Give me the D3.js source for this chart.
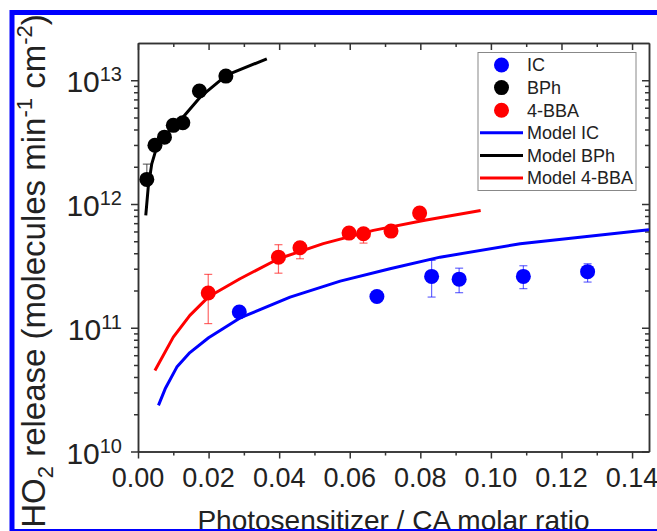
<!DOCTYPE html>
<html>
<head>
<meta charset="utf-8">
<script src="https://cdn.jsdelivr.net/npm/d3@7"></script>
<style>
    body { margin: 0; background: #fff; }
    svg { display: block; font-family: "Liberation Sans", Arial, sans-serif; }
</style>
</head>
<body>
<div id="chart"></div>
<script>
// measured points (x = photosensitizer / CA molar ratio, y = HO2 release)
var icX = [0.0287, 0.0677, 0.0832, 0.0910, 0.1092, 0.1274];
var icY = [1.34e11, 1.79e11, 2.60e11, 2.47e11, 2.60e11, 2.84e11];
var icLo = [null, null, 1.77e11, 1.92e11, 2.07e11, 2.34e11];
var icHi = [null, null, 3.50e11, 3.03e11, 3.17e11, 3.29e11];

var bphX = [0.0025, 0.0048, 0.0075, 0.0100, 0.0127, 0.0174, 0.0249];
var bphY = [1.58e12, 2.98e12, 3.47e12, 4.32e12, 4.54e12, 8.18e12, 1.08e13];
var bphLo = [null, null, null, null, null, null, null];
var bphHi = [2.1e12, null, null, null, null, null, null];

var bbaX = [0.0199, 0.0398, 0.0459, 0.0598, 0.0639, 0.0717, 0.0798];
var bbaY = [1.91e11, 3.72e11, 4.43e11, 5.82e11, 5.75e11, 6.04e11, 8.44e11];
var bbaLo = [1.08e11, 2.76e11, 3.61e11, null, 4.83e11, null, null];
var bbaHi = [2.70e11, 4.69e11, 4.92e11, null, 6.3e11, null, null];

// model curves
var modelIcX = [0.0058, 0.0077, 0.0110, 0.0147, 0.0200, 0.0289, 0.0431, 0.0573, 0.0714, 0.0856, 0.1083, 0.1448];
var modelIcY = [2.36e10, 3.21e10, 4.81e10, 6.3e10, 8.3e10, 1.2e11, 1.77e11, 2.38e11, 3.0e11, 3.72e11, 4.77e11, 6.19e11];

var modelBphX = [0.0022, 0.0029, 0.0039, 0.0053, 0.0081, 0.0128, 0.0176, 0.0251, 0.0365];
var modelBphY = [8.1e11, 1.37e12, 2.11e12, 2.88e12, 3.7e12, 5.05e12, 7.3e12, 1.1e13, 1.49e13];

var modelBbaX = [0.0048, 0.0100, 0.0147, 0.0199, 0.0289, 0.0398, 0.0525, 0.0667, 0.0809, 0.0971];
var modelBbaY = [4.52e10, 8.4e10, 1.26e11, 1.77e11, 2.49e11, 3.61e11, 4.78e11, 6.12e11, 7.36e11, 8.87e11];

// ticks
var xMajor = [0, 0.02, 0.04, 0.06, 0.08, 0.10, 0.12, 0.14];
var xMinor = [0.01, 0.03, 0.05, 0.07, 0.09, 0.11, 0.13];
var yMajor = [1e10, 1e11, 1e12, 1e13];
var yExp = ["10", "11", "12", "13"];

var legendNames = ["IC", "BPh", "4-BBA", "Model IC", "Model BPh", "Model 4-BBA"];

var width = 657,
    height = 531,
    plotLeft = 138,
    plotRight = 649,
    plotTop = 43,
    plotBottom = 451.5,
    blue = "#0000ff",
    red = "#ff0000",
    black = "#000000",
    axisColor = "#333";

var svg = d3.select("#chart")
    .append("svg")
    .attr("width", width)
    .attr("height", height);

svg.append("rect")
    .attr("width", width)
    .attr("height", height)
    .style("fill", "#fff");

var x = d3.scaleLinear()
    .domain([0, 0.1448])
    .range([plotLeft, plotRight]);

var y = d3.scaleLog()
    .domain([1e10, 2e13])
    .range([plotBottom, plotTop]);

// y minor ticks 2..9 per decade
var yMinor = [];
for (var e = 10; e <= 13; e++) {
    for (var m = 2; m <= 9; m++) {
        var v = m * Math.pow(10, e);
        if (v < 2e13) yMinor.push(v);
    }
}

svg.append("clipPath")
    .attr("id", "plotClip")
    .append("rect")
    .attr("x", plotLeft)
    .attr("y", plotTop)
    .attr("width", plotRight - plotLeft)
    .attr("height", plotBottom - plotTop);

// axes
function styleAxis(g) {
    g.select(".domain").style("stroke", axisColor).style("stroke-width", "1.5px");
    g.selectAll(".tick line").style("stroke", axisColor).style("stroke-width", "1.5px");
    g.selectAll(".tick text").remove();
}

svg.append("g")
    .attr("transform", "translate(0," + plotBottom + ")")
    .call(d3.axisBottom(x).tickValues(xMajor).tickSize(7).tickSizeOuter(0))
    .call(styleAxis);
svg.append("g")
    .attr("transform", "translate(0," + plotBottom + ")")
    .call(d3.axisBottom(x).tickValues(xMinor).tickSize(4).tickSizeOuter(0))
    .call(styleAxis);
svg.append("g")
    .attr("transform", "translate(0," + plotTop + ")")
    .call(d3.axisTop(x).tickValues(xMajor).tickSize(-7).tickSizeOuter(0))
    .call(styleAxis);
svg.append("g")
    .attr("transform", "translate(0," + plotTop + ")")
    .call(d3.axisTop(x).tickValues(xMinor).tickSize(-4).tickSizeOuter(0))
    .call(styleAxis);

svg.append("g")
    .attr("transform", "translate(" + plotLeft + ",0)")
    .call(d3.axisLeft(y).tickValues(yMajor).tickSize(7).tickSizeOuter(0))
    .call(styleAxis);
svg.append("g")
    .attr("transform", "translate(" + plotLeft + ",0)")
    .call(d3.axisLeft(y).tickValues(yMinor).tickSize(4).tickSizeOuter(0))
    .call(styleAxis);
svg.append("g")
    .attr("transform", "translate(" + plotRight + ",0)")
    .call(d3.axisRight(y).tickValues(yMajor).tickSize(-7).tickSizeOuter(0))
    .call(styleAxis);
svg.append("g")
    .attr("transform", "translate(" + plotRight + ",0)")
    .call(d3.axisRight(y).tickValues(yMinor).tickSize(-4).tickSizeOuter(0))
    .call(styleAxis);

// x tick labels
svg.selectAll(".xlab")
    .data(xMajor)
    .enter()
    .append("text")
    .attr("class", "xlab")
    .attr("x", function (d) { return x(d); })
    .attr("y", plotBottom + 35)
    .attr("text-anchor", "middle")
    .style("font-size", "27px")
    .style("fill", "#222")
    .text(function (d) { return d3.format(".2f")(d); });

// y tick labels 10^n
yMajor.forEach(function (d, i) {
    var t = svg.append("text")
        .attr("x", 122)
        .attr("y", y(d) + 12)
        .attr("text-anchor", "end")
        .style("fill", "#222");
    t.append("tspan").style("font-size", "30px").text("10");
    t.append("tspan").attr("dy", -11).style("font-size", "20px").text(yExp[i]);
});

// axis titles
svg.append("text")
    .attr("x", (plotLeft + plotRight) / 2)
    .attr("y", 530)
    .attr("text-anchor", "middle")
    .style("font-size", "28px")
    .style("fill", "#222")
    .text("Photosensitizer / CA molar ratio");

var yTitle = svg.append("text")
    .attr("transform", "translate(45,271) rotate(-90)")
    .attr("text-anchor", "middle")
    .style("font-size", "33px")
    .style("fill", "#222");
yTitle.append("tspan").text("HO");
yTitle.append("tspan").attr("dy", 8).style("font-size", "22px").text("2");
yTitle.append("tspan").attr("dy", -8).text(" release (molecules min");
yTitle.append("tspan").attr("dy", -13).style("font-size", "22px").text("-1");
yTitle.append("tspan").attr("dy", 13).text(" cm");
yTitle.append("tspan").attr("dy", -13).style("font-size", "22px").text("-2");
yTitle.append("tspan").attr("dy", 13).text(")");

// model lines
var line = d3.line()
    .x(function (d) { return x(d[0]); })
    .y(function (d) { return y(d[1]); });

var plot = svg.append("g").attr("clip-path", "url(#plotClip)");

function drawModel(xs, ys, color) {
    plot.append("path")
        .datum(d3.zip(xs, ys))
        .attr("d", line)
        .style("fill", "none")
        .style("stroke", color)
        .style("stroke-width", "3px")
        .style("stroke-linejoin", "round");
}

drawModel(modelIcX, modelIcY, blue);
drawModel(modelBphX, modelBphY, black);
drawModel(modelBbaX, modelBbaY, red);

// error bars + points
function drawSeries(xs, ys, lo, hi, color) {
    var g = svg.append("g");
    xs.forEach(function (d, i) {
        var cx = x(d);
        var segs = [];
        if (hi[i] != null) segs.push(hi[i]);
        if (lo[i] != null) segs.push(lo[i]);
        segs.forEach(function (v) {
            g.append("line")
                .attr("x1", cx).attr("x2", cx)
                .attr("y1", y(ys[i])).attr("y2", y(v))
                .style("stroke", color)
                .style("stroke-opacity", 0.6)
                .style("stroke-width", "1.2px");
            g.append("line")
                .attr("x1", cx - 4).attr("x2", cx + 4)
                .attr("y1", y(v)).attr("y2", y(v))
                .style("stroke", color)
                .style("stroke-opacity", 0.6)
                .style("stroke-width", "1.2px");
        });
    });
    g.selectAll("circle")
        .data(d3.zip(xs, ys))
        .enter()
        .append("circle")
        .attr("cx", function (d) { return x(d[0]); })
        .attr("cy", function (d) { return y(d[1]); })
        .attr("r", 7.5)
        .style("fill", color);
}

drawSeries(icX, icY, icLo, icHi, blue);
drawSeries(bphX, bphY, bphLo, bphHi, black);
drawSeries(bbaX, bbaY, bbaLo, bbaHi, red);

// legend
var legend = svg.append("g");
legend.append("rect")
    .attr("x", 478)
    .attr("y", 52.5)
    .attr("width", 158)
    .attr("height", 138)
    .style("fill", "#fff")
    .style("stroke", "#888")
    .style("stroke-width", "1px");

var legendColors = [blue, black, red, blue, black, red];
legendNames.forEach(function (name, i) {
    var ly = 65 + i * 22.6;
    if (i < 3) {
        legend.append("circle")
            .attr("cx", 501.5)
            .attr("cy", ly)
            .attr("r", 7.5)
            .style("fill", legendColors[i]);
    } else {
        legend.append("line")
            .attr("x1", 480).attr("x2", 523)
            .attr("y1", ly).attr("y2", ly)
            .style("stroke", legendColors[i])
            .style("stroke-width", "3px");
    }
    legend.append("text")
        .attr("x", 527)
        .attr("y", ly)
        .attr("dy", "0.36em")
        .style("font-size", "18px")
        .style("fill", "#222")
        .text(name);
});

// frame
svg.append("rect")
    .attr("x", 12)
    .attr("y", 12.5)
    .attr("width", 700)
    .attr("height", 519)
    .style("fill", "none")
    .style("stroke", "#0000ff")
    .style("stroke-width", "5px");
</script>
</body>
</html>
